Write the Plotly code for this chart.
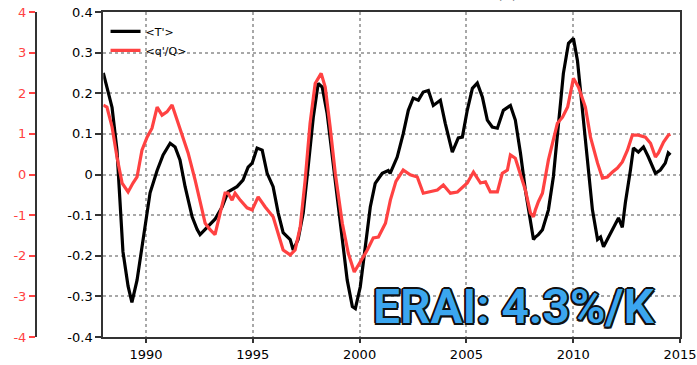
import plotly.graph_objects as go

# <T'> temperature anomaly (K), left inner axis
t_years = [1988.0, 1988.41, 1988.64, 1988.78, 1988.92, 1989.16, 1989.34, 1989.58, 1989.86,
           1990.19, 1990.52, 1990.80, 1991.13, 1991.36, 1991.59, 1991.83, 1992.16, 1992.39,
           1992.53, 1992.86, 1993.23, 1993.56, 1993.84, 1994.26, 1994.54, 1994.78, 1994.97,
           1995.20, 1995.44, 1995.67, 1995.95, 1996.19, 1996.42, 1996.75, 1996.89, 1997.12,
           1997.36, 1997.59, 1997.83, 1998.06, 1998.25, 1998.48, 1998.72, 1998.95, 1999.19,
           1999.42, 1999.66, 1999.80, 2000.03, 2000.26, 2000.50, 2000.73, 2001.06, 2001.34,
           2001.43, 2001.76, 2002.04, 2002.28, 2002.51, 2002.75, 2002.98, 2003.22, 2003.45,
           2003.78, 2004.01, 2004.34, 2004.62, 2004.81, 2005.04, 2005.28, 2005.51, 2005.75,
           2005.98, 2006.21, 2006.45, 2006.73, 2007.06, 2007.29, 2007.53, 2007.76, 2008.00,
           2008.14, 2008.23, 2008.37, 2008.56, 2008.84, 2009.07, 2009.31, 2009.54, 2009.78,
           2010.01, 2010.20, 2010.43, 2010.67, 2010.90, 2011.14, 2011.28, 2011.42, 2011.65,
           2011.89, 2012.12, 2012.30, 2012.44, 2012.68, 2012.82, 2013.05, 2013.29, 2013.52,
           2013.85, 2014.08, 2014.31, 2014.45, 2014.55]
t_vals = [0.25, 0.165, 0.06, -0.06, -0.19, -0.275, -0.315, -0.26, -0.16,
          -0.045, 0.01, 0.048, 0.077, 0.068, 0.036, -0.03, -0.104, -0.135,
          -0.148, -0.13, -0.11, -0.08, -0.043, -0.03, -0.014, 0.018, 0.028,
          0.065, 0.06, 0.003, -0.03, -0.095, -0.143, -0.16, -0.186, -0.16,
          -0.095, 0.018, 0.14, 0.224, 0.215, 0.15, 0.043, -0.055, -0.154,
          -0.26, -0.325, -0.33, -0.277, -0.178, -0.08, -0.022, 0.003, 0.01,
          0.003, 0.043, 0.1, 0.158, 0.188, 0.183, 0.203, 0.207, 0.17,
          0.183, 0.126, 0.055, 0.09, 0.092, 0.158, 0.212, 0.225, 0.19,
          0.134, 0.117, 0.114, 0.158, 0.17, 0.134, 0.053, -0.038, -0.12,
          -0.16, -0.154, -0.148, -0.136, -0.087, -0.006, 0.117, 0.249, 0.323,
          0.335, 0.28, 0.158, 0.028, -0.087, -0.16, -0.154, -0.178, -0.154,
          -0.13, -0.107, -0.13, -0.07, 0.011, 0.065, 0.055, 0.068, 0.043,
          0.003, 0.011, 0.028, 0.053, 0.048]

# <q'/Q> specific humidity anomaly (%), left outer axis
q_years = [1988.0, 1988.17, 1988.41, 1988.64, 1988.88, 1989.16, 1989.39, 1989.58, 1989.81,
           1990.05, 1990.28, 1990.52, 1990.75, 1990.98, 1991.22, 1991.45, 1991.73, 1991.97,
           1992.30, 1992.53, 1992.77, 1993.00, 1993.23, 1993.47, 1993.70, 1993.84, 1994.03,
           1994.17, 1994.41, 1994.73, 1994.97, 1995.25, 1995.58, 1995.95, 1996.19, 1996.42,
           1996.75, 1996.98, 1997.22, 1997.45, 1997.68, 1997.92, 1998.20, 1998.39, 1998.62,
           1998.86, 1999.19, 1999.47, 1999.75, 2000.03, 2000.36, 2000.64, 2000.88, 2001.21,
           2001.44, 2001.70, 2002.04, 2002.37, 2002.70, 2002.98, 2003.31, 2003.64, 2003.92,
           2004.25, 2004.58, 2004.81, 2005.04, 2005.33, 2005.66, 2005.89, 2006.12, 2006.45,
           2006.68, 2006.92, 2007.06, 2007.29, 2007.53, 2007.76, 2008.00, 2008.14, 2008.23,
           2008.37, 2008.56, 2008.84, 2009.26, 2009.50, 2009.74, 2010.01, 2010.25, 2010.57,
           2010.81, 2011.14, 2011.37, 2011.60, 2011.84, 2012.07, 2012.30, 2012.54, 2012.77,
           2013.05, 2013.38, 2013.62, 2013.85, 2013.99, 2014.23, 2014.46, 2014.55]
q_vals = [1.71, 1.66, 1.17, 0.43, -0.21, -0.43, -0.21, -0.06, 0.6,
          0.92, 1.14, 1.66, 1.46, 1.54, 1.71, 1.34, 0.92, 0.53,
          -0.14, -0.63, -1.2, -1.36, -1.48, -0.95, -0.46, -0.46, -0.63,
          -0.46, -0.63, -0.82, -0.87, -0.55, -0.8, -1.04, -1.43, -1.86,
          -1.98, -1.86, -1.29, -0.14, 1.26, 2.24, 2.49, 2.15, 1.17,
          0.03, -1.2, -1.94, -2.4, -2.16, -1.86, -1.56, -1.54, -1.2,
          -0.63, -0.17, 0.11, -0.01, -0.06, -0.46, -0.43, -0.38, -0.26,
          -0.46, -0.43, -0.33, -0.21, 0.06, -0.21, -0.18, -0.43, -0.43,
          0.03, 0.11, 0.48, 0.4, 0.03, -0.38, -0.95, -1.04, -0.87,
          -0.67, -0.46, 0.36, 1.26, 1.41, 1.66, 2.37, 2.15, 1.66,
          0.92, 0.28, -0.09, -0.06, 0.06, 0.16, 0.31, 0.6, 0.97,
          0.97, 0.92, 0.77, 0.43, 0.53, 0.8, 0.97, 0.99]

year_ticks = [1990, 1995, 2000, 2005, 2010, 2015]
t_ticks = [-0.4, -0.3, -0.2, -0.1, 0.0, 0.1, 0.2, 0.3, 0.4]
t_tick_text = ["-0.4", "-0.3", "-0.2", "-0.1", "0", "0.1", "0.2", "0.3", "0.4"]
q_ticks = [-4, -3, -2, -1, 0, 1, 2, 3, 4]
q_tick_text = ["-4", "-3", "-2", "-1", "0", "1", "2", "3", "4"]

RED = "#ff4242"
AXIS = "#333333"
GRID = "#a8a8a8"
TICKFONT = dict(family="DejaVu Sans", size=13)

W, H = 697, 365
ML, MR, MT, MB = 36, 17, 12, 28
plot_w = W - ML - MR

fig = go.Figure()
fig.add_trace(go.Scatter(x=t_years, y=t_vals, mode="lines", name="&lt;T'&gt;",
                         line=dict(color="black", width=3.2)))
fig.add_trace(go.Scatter(x=q_years, y=q_vals, mode="lines", name="&lt;q'/Q&gt;",
                         yaxis="y2", line=dict(color=RED, width=3.2)))

fig.update_layout(
    width=W, height=H,
    margin=dict(l=ML, r=MR, t=MT, b=MB),
    paper_bgcolor="white", plot_bgcolor="white",
    showlegend=True,
    legend=dict(x=0.108, y=0.985, xanchor="left", yanchor="top",
                bgcolor="rgba(0,0,0,0)", borderwidth=0,
                font=dict(family="DejaVu Sans", size=11, color="black"),
                tracegroupgap=0, itemwidth=30),
    xaxis=dict(domain=[(103.3 - ML) / plot_w, 1], range=[1988, 2015],
               tickvals=year_ticks, ticktext=[str(y) for y in year_ticks],
               showgrid=True, gridcolor=GRID, griddash="dot", gridwidth=1.5,
               showline=True, linecolor=AXIS, linewidth=2, mirror=True,
               ticks="outside", ticklen=4, tickwidth=1.5, tickcolor=AXIS,
               tickfont=dict(color="black", **TICKFONT), zeroline=False,
               automargin=False),
    yaxis=dict(range=[-0.4, 0.4], tickvals=t_ticks, ticktext=t_tick_text,
               showgrid=True, gridcolor=GRID, griddash="dot", gridwidth=1.5,
               showline=True, linecolor=AXIS, linewidth=2, mirror=True,
               ticks="outside", ticklen=6, tickwidth=2, tickcolor=AXIS,
               tickfont=dict(color="black", **TICKFONT), zeroline=False,
               automargin=False),
    yaxis2=dict(range=[-4, 4], tickvals=q_ticks, ticktext=q_tick_text,
                overlaying="y", anchor="free", position=0, side="left",
                showgrid=False, zeroline=False,
                showline=True, linecolor=AXIS, linewidth=2,
                ticks="outside", ticklen=6, tickwidth=2, tickcolor=RED,
                tickfont=dict(color=RED, **TICKFONT), automargin=False),
)

# dark outline around the headline text, built from offset shadows
offsets = [(-1.5, -1.5), (1.5, -1.5), (-1.5, 1.5), (1.5, 1.5),
           (0, 2), (0, -2), (2, 0), (-2, 0)]
outline = ", ".join(f"{dx}px {dy}px 0 #111" for dx, dy in offsets)
fig.add_annotation(text="ERAI: 4.3%/K", xref="paper", yref="paper",
                   x=(514 - ML) / plot_w, y=(H - MB - 306) / (H - MT - MB),
                   xanchor="center", yanchor="middle", showarrow=False,
                   font=dict(family="Roboto", size=48, color="#3ba6ef",
                             weight=600, shadow=outline))
fig.add_annotation(text="(K)", xref="paper", yref="paper",
                   x=(507 - ML) / plot_w, y=1 + (MT - 4) / (H - MT - MB),
                   xanchor="center", yanchor="bottom", showarrow=False,
                   font=dict(family="DejaVu Sans", size=14, color="black"))

fig.write_html("out.html")
